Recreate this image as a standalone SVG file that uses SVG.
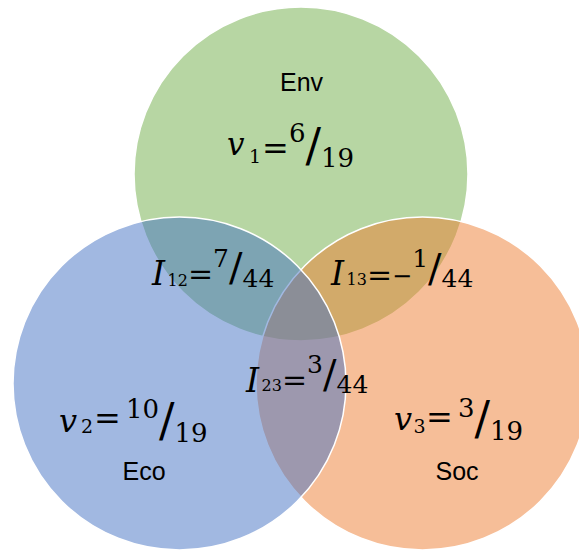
<svg xmlns="http://www.w3.org/2000/svg" width="579" height="552" viewBox="0 0 579 552">
<style>
.c{fill-opacity:0.5;stroke:#ffffff;stroke-width:1.5}
.lbl{font-family:"Liberation Sans",Arial,sans-serif;font-size:25px;fill:#000;text-anchor:middle}
.m{font-family:"DejaVu Serif","Liberation Serif",serif;fill:#000}
.it{font-style:italic}
</style>
<rect width="579" height="552" fill="#ffffff"/>
<g id="env">
<circle class="c" cx="301" cy="174" r="167" fill="#70AD47"/>
</g>
<g id="soc">
<circle class="c" cx="422.5" cy="383.5" r="166.5" fill="#ED7D31"/>
</g>
<g id="eco">
<circle class="c" cx="179.5" cy="383.5" r="166.5" fill="#4472C4"/>
</g>
<g id="connectors"/>
<g id="env-label">
<text class="lbl" x="301.5" y="91">Env</text>
<text class="m"><tspan class="it" x="227" y="155" font-size="31">v</tspan><tspan x="249" y="163" font-size="19">1</tspan><tspan x="262" y="158.7" font-size="32">=</tspan><tspan x="289" y="142" font-size="26">6</tspan><tspan x="305.5" y="161" font-size="46">/</tspan><tspan x="321" y="167" font-size="26">19</tspan></text>
</g>
<g id="eco-label">
<text class="lbl" x="144" y="480">Eco</text>
<text class="m"><tspan class="it" x="59" y="432" font-size="32">v</tspan><tspan x="81" y="433" font-size="19">2</tspan><tspan x="94" y="429.2" font-size="32">=</tspan><tspan x="126" y="418" font-size="26">10</tspan><tspan x="159" y="436" font-size="46">/</tspan><tspan x="174.5" y="442" font-size="26">19</tspan></text>
</g>
<g id="soc-label">
<text class="lbl" x="457" y="480">Soc</text>
<text class="m"><tspan class="it" x="394" y="430" font-size="32">v</tspan><tspan x="413.5" y="433" font-size="19">3</tspan><tspan x="426" y="428.2" font-size="32">=</tspan><tspan x="458" y="417" font-size="26">3</tspan><tspan x="474.5" y="434" font-size="46">/</tspan><tspan x="490" y="440" font-size="26">19</tspan></text>
</g>
<g id="i12">
<text class="m"><tspan class="it" x="152" y="285" font-size="33">I</tspan><tspan x="167.6" y="286" font-size="16">12</tspan><tspan x="188" y="284.1" font-size="30">=</tspan><tspan x="213.1" y="267" font-size="25">7</tspan><tspan x="229" y="281.3" font-size="40">/</tspan><tspan x="242.5" y="287" font-size="25">44</tspan></text>
</g>
<g id="i13">
<text class="m"><tspan class="it" x="331" y="285" font-size="33">I</tspan><tspan x="346.6" y="285" font-size="16">13</tspan><tspan x="367" y="284.6" font-size="30">=</tspan><tspan x="392.1" y="283.7" font-size="24">−</tspan><tspan x="412.2" y="267" font-size="25">1</tspan><tspan x="428.1" y="282.3" font-size="40">/</tspan><tspan x="441.6" y="287" font-size="25">44</tspan></text>
</g>
<g id="i23">
<text class="m"><tspan class="it" x="246" y="392" font-size="33">I</tspan><tspan x="261.6" y="391" font-size="16">23</tspan><tspan x="282" y="389.6" font-size="30">=</tspan><tspan x="307.1" y="373" font-size="25">3</tspan><tspan x="323" y="388" font-size="40">/</tspan><tspan x="336.5" y="393" font-size="25">44</tspan></text>
</g>
</svg>
